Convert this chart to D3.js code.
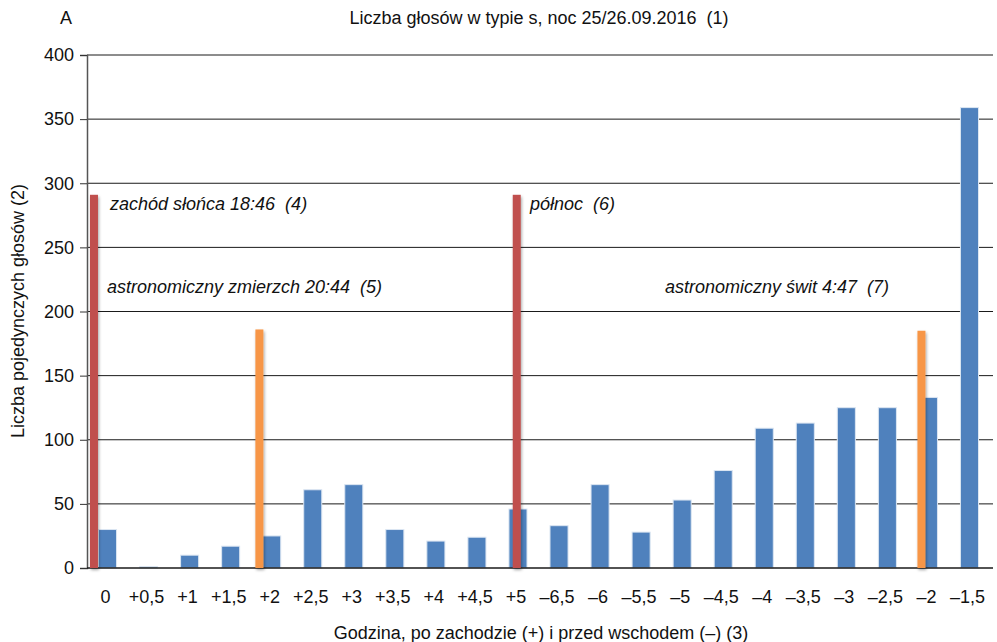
<!DOCTYPE html>
<html>
<head>
<meta charset="utf-8">
<script src="https://cdn.jsdelivr.net/npm/d3@7"></script>
<style>
  body { margin: 0; background: #fff; }
  svg { font-family: "Liberation Sans", Arial, sans-serif; }
  svg text { white-space: pre; }
</style>
</head>
<body>
<div id="chart"></div>
<script>
// Half-hour intervals after sunset (+) and before sunrise (–)
const categories = ["0", "+0,5", "+1", "+1,5", "+2", "+2,5", "+3", "+3,5", "+4", "+4,5", "+5",
  "–6,5", "–6", "–5,5", "–5", "–4,5", "–4", "–3,5", "–3", "–2,5", "–2", "–1,5"];
const calls = [30, 1, 10, 17, 25, 61, 65, 30, 21, 24, 46,
  33, 65, 28, 53, 76, 109, 113, 125, 125, 133, 359];
const yTicks = [0, 50, 100, 150, 200, 250, 300, 350, 400];

// Time markers: category, shift in category steps, height
const markerCats = ["0", "+2", "+5", "–2"];
const markerShift = [-0.33, -0.3, -0.03, -0.17];
const markerValues = [291, 186, 291, 185];
const markerColors = ["#C0504D", "#F79646", "#C0504D", "#F79646"];

const notes = [
  { text: "zachód słońca 18:46  (4)", x: 110, y: 284 },
  { text: "astronomiczny zmierzch 20:44  (5)", x: 107, y: 219 },
  { text: "północ  (6)", x: 530, y: 284 },
  { text: "astronomiczny świt 4:47  (7)", x: 665, y: 219 }
];

const width = 997, height = 642;
const margins = { top: 55, right: 7, bottom: 74, left: 87 };
const fs = 18;

let svg = d3.select("#chart").append("svg")
  .attr("width", width)
  .attr("height", height);

let x = d3.scaleBand().domain(categories)
  .range([margins.left, 990])
  .paddingInner(0.56)
  .paddingOuter(0.28);
let y = d3.scaleLinear().domain([0, 400]).range([height - margins.bottom, margins.top]);

let defs = svg.append("defs");
let blur = defs.append("filter").attr("id", "shadow")
  .attr("x", "-50%").attr("y", "-50%").attr("width", "200%").attr("height", "200%");
blur.append("feDropShadow").attr("dx", 1).attr("dy", 2).attr("stdDeviation", 1.5)
  .attr("flood-color", "#000").attr("flood-opacity", 0.35);

// Gridlines
svg.append("g").selectAll("line")
  .data(yTicks.slice(1))
  .join("line")
  .attr("x1", margins.left)
  .attr("x2", width - 4)
  .attr("y1", d => y(d))
  .attr("y2", d => y(d))
  .attr("stroke", "#1a1a1a")
  .attr("stroke-width", 1);

// Y axis
let yAxis = svg.append("g")
  .attr("transform", "translate(" + margins.left + ",0)")
  .call(d3.axisLeft(y).tickValues(yTicks).tickSize(7).tickPadding(6));
yAxis.select(".domain").attr("stroke", "#555").attr("stroke-width", 1.5);
yAxis.selectAll(".tick line").attr("stroke", "#333");
yAxis.selectAll("text").attr("font-size", fs).attr("fill", "#111")
  .attr("font-family", "Liberation Sans, Arial, sans-serif");

// Bars
svg.append("g").selectAll("rect")
  .data(calls)
  .join("rect")
  .attr("x", (d, i) => x(categories[i]))
  .attr("y", d => y(d))
  .attr("width", x.bandwidth())
  .attr("height", d => y(0) - y(d))
  .attr("fill", "#4F81BD")
  .attr("stroke", "#dce6f2")
  .attr("stroke-width", 1);

// Baseline
svg.append("line")
  .attr("x1", margins.left).attr("x2", width - 4)
  .attr("y1", y(0)).attr("y2", y(0))
  .attr("stroke", "#1a1a1a").attr("stroke-width", 1.5);

// Time markers
let markers = svg.append("g").selectAll("g")
  .data(markerValues)
  .join("g");
const markerX = i => x(markerCats[i]) + x.bandwidth() / 2 + markerShift[i] * x.step();
markers.append("line")
  .attr("x1", (d, i) => markerX(i) - 8)
  .attr("x2", (d, i) => markerX(i) + 8)
  .attr("y1", y(0)).attr("y2", y(0))
  .attr("stroke", "#222").attr("stroke-width", 2.5)
  .attr("filter", "url(#shadow)");
markers.append("rect")
  .attr("x", (d, i) => markerX(i) - 4)
  .attr("y", d => y(d))
  .attr("width", 8)
  .attr("height", d => y(0) - y(d))
  .attr("fill", (d, i) => markerColors[i])
  .attr("filter", "url(#shadow)");

// X tick labels
svg.append("g").selectAll("text")
  .data(categories)
  .join("text")
  .attr("x", d => x(d) + x.bandwidth() / 2 - 2)
  .attr("y", 603)
  .attr("text-anchor", "middle")
  .attr("font-size", fs)
  .attr("fill", "#111")
  .text(d => d);

// Annotations
svg.append("g").selectAll("text")
  .data(notes)
  .join("text")
  .attr("x", d => d.x)
  .attr("y", d => y(d.y))
  .attr("font-size", fs)
  .attr("font-style", "italic")
  .attr("fill", "#111")
  .attr("dy", "0.35em")
  .text(d => d.text);

// Titles
svg.append("text")
  .attr("x", 66).attr("y", 24)
  .attr("text-anchor", "middle")
  .attr("font-size", fs).attr("fill", "#111")
  .text("A");
svg.append("text")
  .attr("x", 539).attr("y", 24)
  .attr("text-anchor", "middle")
  .attr("font-size", fs).attr("fill", "#111")
  .text("Liczba głosów w typie s, noc 25/26.09.2016  (1)");
svg.append("text")
  .attr("x", 541).attr("y", 639)
  .attr("text-anchor", "middle")
  .attr("font-size", fs).attr("fill", "#111")
  .text("Godzina, po zachodzie (+) i przed wschodem (–) (3)");
svg.append("text")
  .attr("transform", "translate(24," + 311 + ") rotate(-90)")
  .attr("text-anchor", "middle")
  .attr("font-size", fs).attr("fill", "#111")
  .text("Liczba pojedynczych głosów (2)");
</script>
</body>
</html>
